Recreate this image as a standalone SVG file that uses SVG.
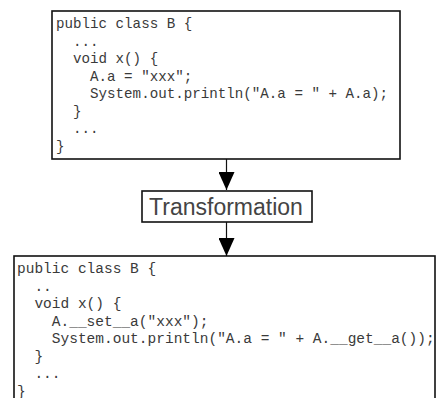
<svg xmlns="http://www.w3.org/2000/svg" width="438" height="398" viewBox="0 0 438 398">
  <defs>
    <style>
      .box { fill: #ffffff; stroke: #111111; stroke-width: 1.6; }
      .code { font-family: "Liberation Mono", "Courier New", monospace; fill: #3a3a3a; white-space: pre; }
      .label { font-family: "Liberation Sans", Arial, sans-serif; font-size: 23px; fill: #444444; text-anchor: middle; }
      .edge { stroke: #111111; stroke-width: 1.2; fill: none; }
    </style>
    <!-- filled triangle head, drawn along +x so orient="auto" turns it with the line -->
    <marker id="arrow" viewBox="0 0 18 16" refX="18" refY="8" markerWidth="18" markerHeight="16" markerUnits="userSpaceOnUse" orient="auto">
      <path d="M0,0 L18,8 L0,16 Z" fill="#000000"/>
    </marker>
  </defs>
  <rect width="438" height="398" fill="#ffffff"/>

  <!-- original class -->
  <g id="source">
    <rect class="box" x="52" y="11" width="348" height="148"/>
    <text class="code" font-size="14.2" x="56" y="28" xml:space="preserve">public class B {</text>
    <text class="code" font-size="14.2" x="56" y="45.5" xml:space="preserve">  ...</text>
    <text class="code" font-size="14.2" x="56" y="63" xml:space="preserve">  void x() {</text>
    <text class="code" font-size="14.2" x="56" y="80.5" xml:space="preserve">    A.a = "xxx";</text>
    <text class="code" font-size="14.2" x="56" y="98" xml:space="preserve">    System.out.println("A.a = " + A.a);</text>
    <text class="code" font-size="14.2" x="56" y="115.5" xml:space="preserve">  }</text>
    <text class="code" font-size="14.2" x="56" y="133" xml:space="preserve">  ...</text>
    <text class="code" font-size="14.2" x="56" y="150.5" xml:space="preserve">}</text>
  </g>

  <!-- transformation step -->
  <g id="transformation">
    <rect class="box" x="142" y="191" width="170" height="31" stroke-width="1.2"/>
    <text class="label" x="226" y="215">Transformation</text>
  </g>

  <!-- rewritten class -->
  <g id="result">
    <rect class="box" x="14" y="256" width="421" height="160"/>
    <text class="code" font-size="14.5" x="17" y="273" xml:space="preserve">public class B {</text>
    <text class="code" font-size="14.5" x="17" y="290.5" xml:space="preserve">  ..</text>
    <text class="code" font-size="14.5" x="17" y="308" xml:space="preserve">  void x() {</text>
    <text class="code" font-size="14.5" x="17" y="325.5" xml:space="preserve">    A.__set__a("xxx");</text>
    <text class="code" font-size="14.5" x="17" y="343" xml:space="preserve">    System.out.println("A.a = " + A.__get__a());</text>
    <text class="code" font-size="14.5" x="17" y="360.5" xml:space="preserve">  }</text>
    <text class="code" font-size="14.5" x="17" y="378" xml:space="preserve">  ...</text>
    <text class="code" font-size="14.5" x="17" y="395.5" xml:space="preserve">}</text>
  </g>

  <!-- connectors -->
  <g id="connectors">
    <line class="edge" x1="226.5" y1="159" x2="226.5" y2="190" marker-end="url(#arrow)"/>
    <line class="edge" x1="226.5" y1="222" x2="226.5" y2="256" marker-end="url(#arrow)"/>
  </g>
</svg>
